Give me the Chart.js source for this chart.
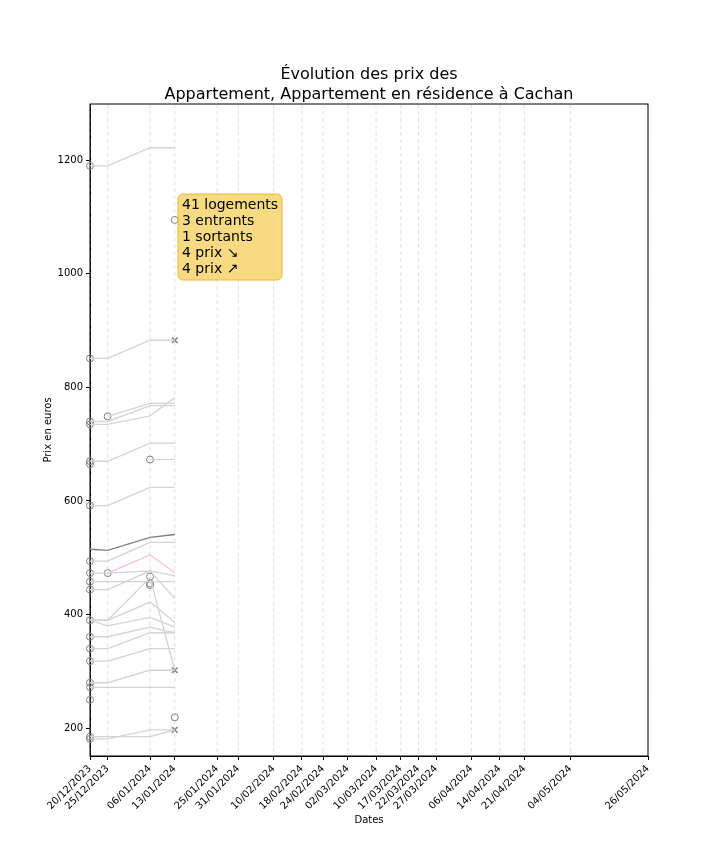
<!DOCTYPE html>
<html>
<head>
<meta charset="utf-8">
<script src="https://cdn.jsdelivr.net/npm/chart.js@4/dist/chart.umd.min.js"></script>
<style>body{margin:0;background:#fff}</style>
</head>
<body>
<canvas id="grap" width="720" height="864"></canvas>
<script>
// jours depuis le 20/12/2023
const jours = [0, 5, 17, 24]
const tickJours = [0, 5, 17, 24, 36, 42, 52, 60, 66, 73, 81, 88, 93, 98, 108, 116, 123, 136, 158]
const tickLabels = ['20/12/2023','25/12/2023','06/01/2024','13/01/2024','25/01/2024','31/01/2024','10/02/2024','18/02/2024','24/02/2024','02/03/2024','10/03/2024','17/03/2024','22/03/2024','27/03/2024','06/04/2024','14/04/2024','21/04/2024','04/05/2024','26/05/2024']
const yTicks = [200, 400, 600, 800, 1000, 1200]

const prixGris = [
    [1190, 1190, 1222, 1222],
    [851, 851, 883, 883],
    [740, 740, 768, 768],
    [735, 735, 750, 782],
    [null, 749, 772, 772],
    [670, 670, 702, 702],
    [null, null, 673, 673],
    [592, 592, 624, 624],
    [494, 494, 527, 527],
    [473, 473, 477, 468],
    [458, 458, 458, 458],
    [444, 444, 477, 428],
    [390, 390, 465, 302],
    [390, 380, 395, 378],
    [390, 390, 422, 386],
    [361, 361, 378, 368],
    [340, 340, 368, 368],
    [318, 318, 340, 340],
    [280, 280, 302, 302],
    [272, 272, 272, 272],
    [185, 185, 185, 197],
    [181, 181, 197, 197]
]
const prixFonce = [515, 513, 536, 541]
const prixRose = [null, 473, 505, 474]

const ronds = [[0,1190],[24,1095],[0,851],[0,740],[0,735],[5,749],[0,670],[0,665],[17,673],[0,592],[0,494],[0,473],[5,473],[0,458],[0,444],[17,467],[17,455],[17,452],[0,390],[0,361],[0,340],[0,318],[0,280],[0,272],[0,250],[0,185],[0,181],[24,219]]
const croix = [[24,883],[24,302],[24,197]]

const texteBoite = ['41 logements', '3 entrants', '1 sortants', '4 prix ↘', '4 prix ↗']

function ligne(vals, couleur) {
    return {
        type: 'line',
        data: vals.map((v, i) => v === null ? null : {x: jours[i], y: v}).filter(p => p),
        borderColor: couleur, borderWidth: 1.3, pointRadius: 0, fill: false, tension: 0
    }
}

const datasets = prixGris.map(v => ligne(v, '#d3d3d3'))
datasets.push(ligne(prixRose, '#ffc0cb'))
datasets.push(ligne(prixFonce, '#808080'))
datasets.push({
    type: 'scatter', data: ronds.map(p => ({x: p[0], y: p[1]})), clip: false,
    pointStyle: 'circle', pointRadius: 3.5, borderColor: '#808080', backgroundColor: 'rgba(0,0,0,0)', borderWidth: 1
})
datasets.push({
    type: 'scatter', data: croix.map(p => ({x: p[0], y: p[1]})), clip: false,
    pointStyle: 'crossRot', pointRadius: 4, borderColor: '#808080', borderWidth: 1.5
})

const decor = {
    id: 'decor',
    afterDraw(chart) {
        const c = chart.ctx
        c.save()
        c.fillStyle = '#000'
        c.font = '16px "DejaVu Sans"'
        c.textAlign = 'center'
        c.textBaseline = 'alphabetic'
        c.fillText('Évolution des prix des', 369, 79)
        c.fillText('Appartement, Appartement en résidence à Cachan', 369, 99)
        // titres des axes
        c.font = '10px "DejaVu Sans"'
        c.textBaseline = 'middle'
        c.fillText('Dates', 369, 820)
        c.translate(48, 430)
        c.rotate(-Math.PI / 2)
        c.fillText('Prix en euros', 0, 0)
        c.restore()
        c.save()
        // boite
        const x = 178, y = 194, w = 104, h = 86, r = 5
        c.beginPath()
        c.roundRect(x, y, w, h, r)
        c.fillStyle = 'rgba(245,205,90,0.75)'
        c.fill()
        c.strokeStyle = '#e8b830'
        c.lineWidth = 1
        c.stroke()
        c.fillStyle = '#000'
        c.font = '14px "DejaVu Sans"'
        c.textAlign = 'left'
        c.textBaseline = 'middle'
        texteBoite.forEach((t, i) => c.fillText(t, 182, 205 + i * 16.2))
        c.restore()
    }
}

new Chart(document.getElementById('grap').getContext('2d'), {
    data: {datasets},
    options: {
        responsive: false,
        animation: false,
        layout: {padding: {top: 104, right: 72, left: 0, bottom: 0}},
        plugins: {legend: {display: false}, tooltip: {enabled: false}},
        scales: {
            x: {
                type: 'linear', min: 0, max: 158,
                afterBuildTicks: ax => { ax.ticks = tickJours.map(v => ({value: v})) },
                afterFit: ax => { ax.height = 108 },
                ticks: {
                    minRotation: 45, maxRotation: 45, color: '#000', font: {size: 10, family: 'DejaVu Sans'},
                    callback: v => tickLabels[tickJours.indexOf(v)]
                },
                grid: {color: 'rgba(0,0,0,0)', tickColor: '#000', tickLength: 4},
                border: {color: '#000'}
            },
            y: {
                min: 151, max: 1299,
                afterBuildTicks: ax => { ax.ticks = yTicks.map(v => ({value: v})) },
                afterFit: ax => { ax.width = 90 },
                ticks: {color: '#000', font: {size: 10, family: 'DejaVu Sans'}, callback: v => String(v)},
                grid: {color: 'rgba(0,0,0,0)', tickColor: '#000', tickLength: 4},
                border: {color: '#000'}
            }
        }
    },
    plugins: [decor, {
        id: 'cadre',
        beforeDatasetsDraw(chart) {
            const a = chart.chartArea, c = chart.ctx
            c.save()
            c.strokeStyle = '#d8d8d8'; c.lineWidth = 0.8; c.setLineDash([4, 3])
            chart.scales.x.ticks.forEach(t => {
                const px = chart.scales.x.getPixelForValue(t.value)
                c.beginPath(); c.moveTo(px, a.top); c.lineTo(px, a.bottom); c.stroke()
            })
            c.setLineDash([]); c.strokeStyle = '#000'; c.lineWidth = 1
            c.strokeRect(a.left, a.top, a.right - a.left, a.bottom - a.top)
            c.restore()
        }
    }]
})
</script>
</body>
</html>
